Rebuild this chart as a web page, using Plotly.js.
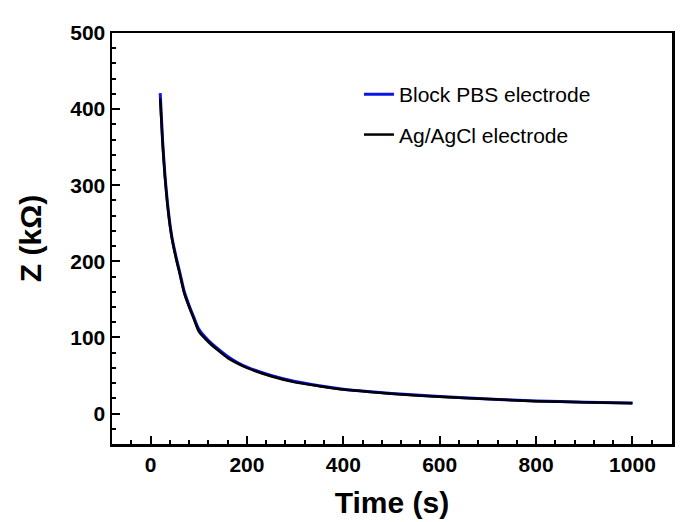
<!DOCTYPE html>
<html>
<head>
<meta charset="utf-8">
<script src="https://cdn.plot.ly/plotly-3.0.1.min.js"></script>
<style>html,body{margin:0;padding:0;background:#fff;}#chart{width:681px;height:522px;}</style>
</head>
<body>
<div id="chart"></div>
<script>
// Time (s)
var timeBlock = [20, 25, 30, 35, 40, 45, 50, 55, 60, 70, 80, 90, 100, 120, 140, 160, 180, 200, 250, 300, 350, 400, 450, 500, 600, 700, 800, 900, 1000];
var zBlock    = [421, 358, 312, 277, 250, 229, 214, 200, 187, 160, 142, 126, 111, 96, 85, 75, 67, 61, 50, 42, 36.5, 32, 29, 26.5, 22.3, 19.2, 16.6, 15, 13.8];
var timeAg    = [20, 25, 30, 35, 40, 45, 50, 55, 60, 70, 80, 90, 100, 120, 140, 160, 180, 200, 250, 300, 350, 400, 450, 500, 600, 700, 800, 900, 1000];
var zAg       = [414, 355, 310, 275, 248, 228, 212, 198, 185, 158, 140, 124, 108, 94, 83, 73, 66, 60, 49, 41, 36, 31.5, 28.8, 26, 22, 19, 16.3, 14.7, 13.5];
var seriesNames = ["Block PBS electrode", "Ag/AgCl electrode"];

var traces = [
  {x: timeBlock, y: zBlock, name: seriesNames[0], type: "scatter", mode: "lines",
   line: {color: "#0a14e6", width: 3, shape: "spline", smoothing: 0.6}, legendgroup: "a"},
  {x: timeAg, y: zAg, name: seriesNames[1], type: "scatter", mode: "lines",
   line: {color: "#000000", width: 2.5, shape: "spline", smoothing: 0.6}, legendgroup: "b"}
];

var layout = {
  width: 681, height: 522,
  margin: {l: 112, r: 9, t: 33, b: 78},
  paper_bgcolor: "#ffffff", plot_bgcolor: "#ffffff",
  font: {family: "Liberation Sans, Arial, sans-serif", color: "#000"},
  showlegend: true,
  legend: {x: 0.441, y: 0.90, xanchor: "left", yanchor: "top", bgcolor: "rgba(0,0,0,0)",
           font: {size: 21, color: "#000"}, tracegroupgap: 10, itemwidth: 30},
  xaxis: {
    range: [-80, 1082], showgrid: false, zeroline: false,
    showline: true, linecolor: "#000", linewidth: 2.5, mirror: true,
    ticks: "inside", ticklen: 8, tickwidth: 2, tickcolor: "#000",
    tick0: 0, dtick: 200,
    minor: {ticks: "inside", ticklen: 4, tickwidth: 2, tickcolor: "#000", dtick: 40, tick0: 0, showgrid: false},
    tickfont: {size: 21, family: "Liberation Sans, Arial, sans-serif", weight: "bold"},
    title: {text: "<b>Time (s)</b>", font: {size: 30}, standoff: 18}
  },
  yaxis: {
    range: [-40, 500], showgrid: false, zeroline: false,
    showline: true, linecolor: "#000", linewidth: 2.5, mirror: true,
    ticks: "inside", ticklen: 8, tickwidth: 2, tickcolor: "#000",
    tick0: 0, dtick: 100,
    minor: {ticks: "inside", ticklen: 4, tickwidth: 2, tickcolor: "#000", dtick: 20, tick0: 0, showgrid: false},
    tickfont: {size: 21, family: "Liberation Sans, Arial, sans-serif", weight: "bold"},
    title: {text: "<b>Z (kΩ)</b>", font: {size: 30}, standoff: 20}
  }
};

Plotly.newPlot("chart", traces, layout, {displayModeBar: false, staticPlot: true});
</script>
</body>
</html>
